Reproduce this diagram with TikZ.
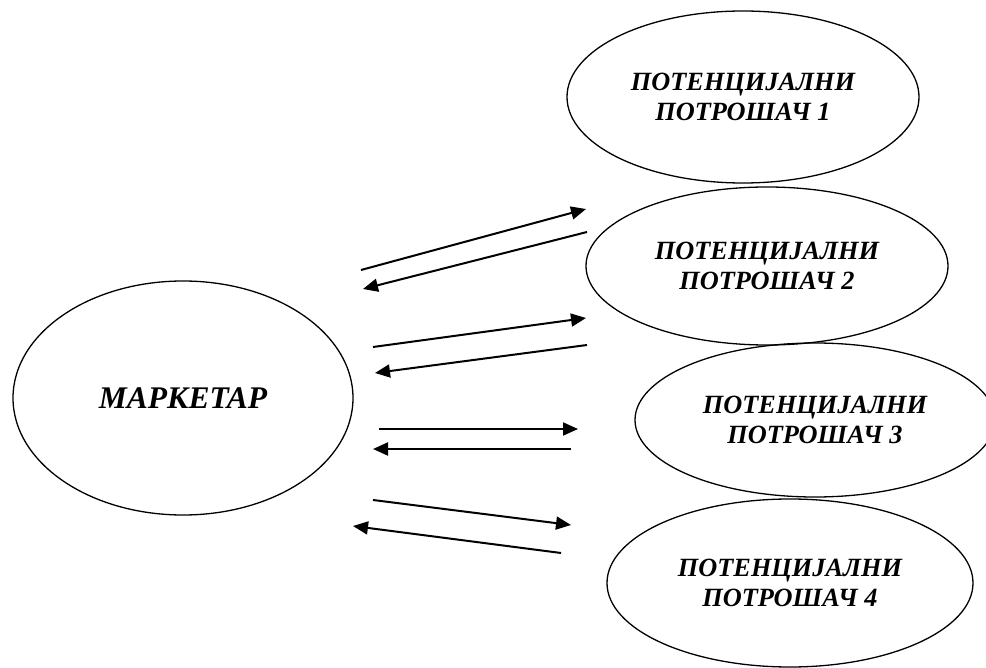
\documentclass[tikz,border=0pt]{standalone}
\usepackage{fontspec}
\setmainfont{Liberation Serif}
\usetikzlibrary{shapes.geometric,arrows.meta}

\tikzset{
  party/.style={ellipse,draw,line width=1.3pt,inner sep=0pt,align=center,
    font=\bfseries\itshape\fontsize{26.3}{30}\selectfont},
  flow/.style={line width=2pt,-{Triangle[length=15pt,width=13pt]}}
}

\begin{document}
\begin{tikzpicture}[x=1pt,y=-1pt]

      \useasboundingbox (0,0) rectangle (986,668);
      \clip (0,0) rectangle (986,668);

      \begin{scope}[every node/.style={party}]
        \node[minimum width=340pt,minimum height=234pt,
          font=\bfseries\itshape\fontsize{31.5}{34}\selectfont]
          (marketar) at (183,398) {МАРКЕТАР};
        \node[minimum width=352pt,minimum height=172pt] (potr1) at (743,97)  {ПОТЕНЦИЈАЛНИ\\ПОТРОШАЧ 1};
        \node[minimum width=362pt,minimum height=158pt] (potr2) at (767,266) {ПОТЕНЦИЈАЛНИ\\ПОТРОШАЧ 2};
        \node[minimum width=360pt,minimum height=154pt] (potr3) at (815,420) {ПОТЕНЦИЈАЛНИ\\ПОТРОШАЧ 3};
        \node[minimum width=366pt,minimum height=168pt] (potr4) at (790,583) {ПОТЕНЦИЈАЛНИ\\ПОТРОШАЧ 4};
      \end{scope}

      % ends of the message arrows
      \coordinate (out1s)  at (361,270);
      \coordinate (out1e)  at (586,209);
      \coordinate (back1s) at (587,232);
      \coordinate (back1e) at (363,289);
      \coordinate (out2s)  at (373,347);
      \coordinate (out2e)  at (586,318);
      \coordinate (back2s) at (587,345);
      \coordinate (back2e) at (375,373);
      \coordinate (out3s)  at (379,429);
      \coordinate (out3e)  at (578,429);
      \coordinate (back3s) at (571,449);
      \coordinate (back3e) at (373,449);
      \coordinate (out4s)  at (373,500);
      \coordinate (out4e)  at (571,525);
      \coordinate (back4s) at (561,553);
      \coordinate (back4e) at (353,526);

      \begin{scope}[every path/.style={flow}]
        \draw (out1s)  -- (out1e);
        \draw (back1s) -- (back1e);
        \draw (out2s)  -- (out2e);
        \draw (back2s) -- (back2e);
        \draw (out3s)  -- (out3e);
        \draw (back3s) -- (back3e);
        \draw (out4s)  -- (out4e);
        \draw (back4s) -- (back4e);
      \end{scope}

    \end{tikzpicture}
\end{document}
